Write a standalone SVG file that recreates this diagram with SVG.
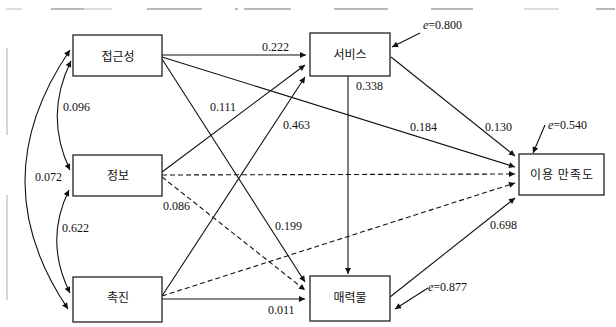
<svg xmlns="http://www.w3.org/2000/svg" width="616" height="327" viewBox="0 0 616 327">
<style>
.box{fill:#fff;stroke:#222;stroke-width:1.3}
.lbl{font-family:"Noto Sans CJK KR","Noto Sans",sans-serif;font-size:12px;fill:#111;text-anchor:middle}
.num{font-family:"Liberation Serif",serif;font-size:12px;fill:#111}
.c{fill:none;stroke:#111;stroke-width:1.1;marker-end:url(#ah)}
.d{stroke-dasharray:5 3}
.dbl{marker-start:url(#ah)}
.deco{stroke:#777;stroke-width:1.2;fill:none}
.deco2{stroke:#bbb;stroke-width:1.2;fill:none}
</style>
<defs>
<marker id="ah" viewBox="0 0 10 10" refX="10" refY="5" markerWidth="8" markerHeight="6" markerUnits="userSpaceOnUse" orient="auto-start-reverse">
<path d="M0,0 L10,5 L0,10 z" fill="#111"/>
</marker>
</defs>
<rect width="616" height="327" fill="#fff"/>
<g id="page-edges">
<path class="deco2" d="M6,9 H22 M84,9 H112 M524,9 H559"/>
<path class="deco" d="M51,9 H84 M147,9 H202 M235,9 H238 M244,9 H291 M334,9 H388 M431,9 H473 M596,9 H615"/>
<path class="deco2" d="M7,48 V135 M7,195 V300"/>
</g>
<g id="connectors">
<path class="c" d="M162,55 L306,55"/>
<path class="c" d="M162,57 L515,167"/>
<path class="c" d="M162,59 L305,282"/>
<path class="c" d="M162,172 L305,65"/>
<path class="c d" d="M162,175 L515,174"/>
<path class="c d" d="M162,177 L305,290"/>
<path class="c" d="M162,296 L305,77"/>
<path class="c d" d="M162,296 L515,183"/>
<path class="c" d="M162,299 L305,299"/>
<path class="c" d="M348,76 L348,274"/>
<path class="c" d="M391,57 L515,156"/>
<path class="c" d="M390,297 L515,198"/>
<path class="c" d="M420,33 L392,47"/>
<path class="c" d="M545,125 L533,153"/>
<path class="c" d="M428,288 L395,309"/>
<path class="c dbl" d="M71,61 Q44,116 70,170"/>
<path class="c dbl" d="M69,190 Q44,241 70,293"/>
<path class="c dbl" d="M70,50 Q-19,180 68,309"/>
<text class="num" x="262" y="51">0.222</text>
<text class="num" x="210" y="111">0.111</text>
<text class="num" x="283" y="129">0.463</text>
<text class="num" x="356" y="90">0.338</text>
<text class="num" x="410" y="131">0.184</text>
<text class="num" x="485" y="131">0.130</text>
<text class="num" x="163" y="210">0.086</text>
<text class="num" x="275" y="230">0.199</text>
<text class="num" x="268" y="314">0.011</text>
<text class="num" x="490" y="229">0.698</text>
<text class="num" x="63" y="111">0.096</text>
<text class="num" x="35" y="181">0.072</text>
<text class="num" x="62" y="232">0.622</text>
<text class="num" x="423" y="29"><tspan font-style="italic">e</tspan>=0.800</text>
<text class="num" x="548" y="129"><tspan font-style="italic">e</tspan>=0.540</text>
<text class="num" x="428" y="291"><tspan font-style="italic">e</tspan>=0.877</text>
</g>
<g id="node-access"><rect class="box" x="73" y="35" width="89" height="41"/><text class="lbl" x="118" y="61">접근성</text></g>
<g id="node-info"><rect class="box" x="73" y="155" width="89" height="41"/><text class="lbl" x="118" y="180">정보</text></g>
<g id="node-promo"><rect class="box" x="73" y="277" width="89" height="45"/><text class="lbl" x="118" y="302">촉진</text></g>
<g id="node-service"><rect class="box" x="310" y="33" width="80" height="43"/><text class="lbl" x="350" y="59">서비스</text></g>
<g id="node-satisfaction"><rect class="box" x="519" y="154" width="85" height="41"/><text class="lbl" x="562" y="179" letter-spacing="1">이용 만족도</text></g>
<g id="node-attraction"><rect class="box" x="310" y="276" width="80" height="45"/><text class="lbl" x="350" y="302">매력물</text></g>
</svg>
